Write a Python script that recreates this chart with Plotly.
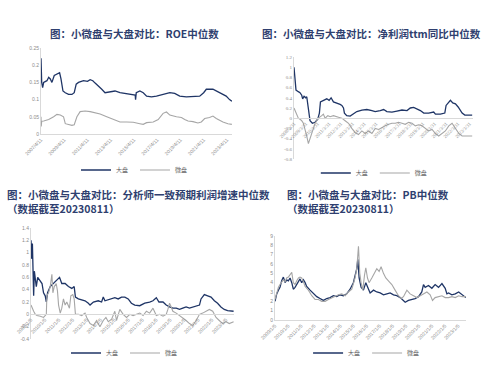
import plotly.graph_objects as go

# ---------------- Data (x as decimal years) ----------------
# Panel 1: ROE median
roe_big_x = [2007.28, 2007.34, 2007.42, 2007.51, 2007.79, 2007.94, 2008.08, 2008.22, 2008.42, 2008.65,
             2008.88, 2009.0, 2009.17, 2009.37, 2009.65, 2009.94, 2010.14, 2010.31, 2010.51, 2010.94,
             2011.28, 2011.51, 2011.74, 2011.94, 2012.22, 2012.51, 2012.79, 2013.22, 2013.65, 2014.08,
             2014.51, 2014.94, 2015.22, 2015.39, 2015.42, 2015.48, 2015.79, 2016.08, 2016.37, 2016.79,
             2017.22, 2017.79, 2018.37, 2018.79, 2019.22, 2019.79, 2020.37, 2020.94, 2021.28, 2021.51,
             2022.08, 2022.37, 2022.65, 2022.94, 2023.22, 2023.51, 2023.71]
roe_big_y = [0.22, 0.15, 0.135, 0.15, 0.155, 0.165, 0.16, 0.15, 0.17, 0.175,
             0.178, 0.16, 0.125, 0.12, 0.115, 0.115, 0.12, 0.145, 0.15, 0.155,
             0.153, 0.158, 0.155, 0.148, 0.14, 0.13, 0.12, 0.122, 0.125, 0.12,
             0.118, 0.115, 0.113, 0.113, 0.10, 0.12, 0.125, 0.12, 0.11, 0.108,
             0.11, 0.115, 0.12, 0.118, 0.11, 0.108, 0.108, 0.11, 0.12, 0.13,
             0.13, 0.125, 0.12, 0.115, 0.11, 0.10, 0.095]
roe_small_x = [2007.28, 2007.30, 2007.34, 2007.51, 2007.94, 2008.37, 2008.65, 2008.94, 2009.22, 2009.37,
               2009.65, 2009.94, 2010.14, 2010.37, 2010.65, 2011.08, 2011.51, 2011.94, 2012.37, 2012.94,
               2013.37, 2013.79, 2014.08, 2014.65, 2015.22, 2015.79, 2016.08, 2016.37, 2016.94, 2017.37,
               2017.79, 2018.08, 2018.37, 2018.94, 2019.37, 2019.65, 2019.94, 2020.37, 2020.79, 2021.08,
               2021.37, 2021.79, 2022.08, 2022.37, 2022.65, 2022.94, 2023.37, 2023.71]
roe_small_y = [0.05, 0.022, 0.037, 0.038, 0.042, 0.05, 0.057, 0.055, 0.05, 0.03,
               0.028, 0.025, 0.027, 0.05, 0.065, 0.067, 0.065, 0.062, 0.058, 0.05,
               0.045, 0.04, 0.035, 0.035, 0.034, 0.03, 0.028, 0.033, 0.035, 0.042,
               0.06, 0.064, 0.055, 0.05, 0.048, 0.042, 0.038, 0.036, 0.032, 0.035,
               0.045, 0.048, 0.052, 0.045, 0.04, 0.035, 0.03, 0.028]
roe_ticks = ["2007/4/11", "2009/4/11", "2011/4/11", "2013/4/11", "2015/4/11",
             "2017/4/11", "2019/4/11", "2021/4/11", "2023/4/11"]

# Panel 2: net profit ttm YoY median
np_big_x = [2008.25, 2008.34, 2008.42, 2008.62, 2008.76, 2008.91, 2008.99, 2009.11, 2009.25, 2009.34,
            2009.48, 2009.62, 2009.82, 2010.05, 2010.28, 2010.42, 2010.51, 2010.76, 2011.05, 2011.25,
            2011.42, 2011.62, 2011.91, 2012.19, 2012.34, 2012.48, 2012.56, 2012.76, 2013.05, 2013.34,
            2013.62, 2014.05, 2014.48, 2014.91, 2015.19, 2015.62, 2015.91, 2016.19, 2016.62, 2017.05,
            2017.48, 2017.91, 2018.19, 2018.48, 2018.76, 2019.05, 2019.34, 2019.76, 2020.19, 2020.34,
            2020.76, 2021.14, 2021.25, 2021.48, 2021.62, 2021.82, 2022.05, 2022.28, 2022.48, 2022.62,
            2022.85, 2023.19, 2023.48]
np_big_y = [1.0, 0.75, 0.55, 0.52, 0.5, 0.45, 0.38, 0.43, 0.4, 0.42,
            0.15, -0.05, -0.1, -0.08, -0.02, 0.1, 0.32, 0.35, 0.38, 0.35,
            0.4, 0.32, 0.3, 0.27, 0.25, 0.2, 0.1, 0.05, 0.04, 0.08,
            0.13, 0.16, 0.17, 0.15, 0.13, 0.15, 0.17, 0.13, 0.12, 0.14,
            0.16, 0.15, 0.2, 0.21, 0.18, 0.15, 0.1, 0.1, 0.12, 0.08,
            0.08, 0.1, 0.25, 0.3, 0.35, 0.3, 0.28, 0.22, 0.15, 0.1,
            0.06, 0.06, 0.06]
np_small_x = [2008.25, 2008.34, 2008.48, 2008.62, 2008.76, 2008.91, 2009.05, 2009.19, 2009.34, 2009.48,
              2009.62, 2009.76, 2009.91, 2010.05, 2010.19, 2010.34, 2010.62, 2010.76, 2010.91, 2011.14,
              2011.34, 2011.62, 2012.05, 2012.34, 2012.62, 2012.91, 2013.19, 2013.48, 2013.76, 2014.05,
              2014.34, 2014.62, 2014.91, 2015.19, 2015.48, 2015.76, 2016.05, 2016.34, 2016.62, 2016.91,
              2017.19, 2017.48, 2017.76, 2018.05, 2018.34, 2018.62, 2018.91, 2019.19, 2019.48, 2019.76,
              2020.05, 2020.34, 2020.62, 2020.91, 2021.19, 2021.48, 2021.76, 2022.05, 2022.34, 2022.62,
              2022.91, 2023.19, 2023.48]
np_small_y = [0.2, 0.15, 0.05, 0.0, -0.02, -0.05, -0.1, -0.2, -0.35, -0.5,
              -0.4, -0.3, -0.2, -0.1, -0.05, 0.0, 0.05, 0.08, 0.0, 0.05,
              0.03, 0.05, 0.02, 0.0, -0.05, -0.1, -0.2, -0.28, -0.32, -0.25,
              -0.3, -0.25, -0.3, -0.2, -0.22, -0.18, -0.15, -0.12, -0.1, -0.1,
              -0.08, -0.1, -0.12, -0.08, -0.1, -0.15, -0.13, -0.15, -0.2, -0.25,
              -0.22, -0.3, -0.35, -0.3, -0.25, -0.15, -0.1, -0.2, -0.3, -0.35,
              -0.35, -0.36, -0.35]
np_ticks = ["2008/3/31", "2009/3/31", "2010/3/31", "2011/3/31", "2012/3/31", "2013/3/31",
            "2014/3/31", "2015/3/31", "2016/3/31", "2017/3/31", "2018/3/31", "2019/3/31",
            "2020/3/31", "2021/3/31", "2022/3/31", "2023/3/31"]

# Panel 3: analyst consensus profit growth median
an_big_x = [2009.00, 2009.05, 2009.10, 2009.14, 2009.19, 2009.24, 2009.31, 2009.38, 2009.48, 2009.62,
            2009.79, 2009.90, 2010.02, 2010.10, 2010.19, 2010.38, 2010.62, 2010.86, 2011.05, 2011.21,
            2011.45, 2011.69, 2011.93, 2012.10, 2012.19, 2012.40, 2012.64, 2012.88, 2013.12, 2013.24,
            2013.48, 2013.83, 2014.07, 2014.19, 2014.31, 2014.67, 2015.02, 2015.26, 2015.50, 2015.74,
            2015.98, 2016.21, 2016.45, 2016.81, 2017.17, 2017.52, 2017.76, 2018.00, 2018.19, 2018.48,
            2018.71, 2018.95, 2019.19, 2019.43, 2019.67, 2019.90, 2020.14, 2020.38, 2020.62, 2020.86,
            2021.10, 2021.21, 2021.45, 2021.69, 2021.93, 2022.17, 2022.40, 2022.64, 2022.88, 2023.12,
            2023.36, 2023.55]
an_big_y = [1.2, 0.9, 1.15, 0.6, 0.3, 0.7, 0.6, 0.45, 0.6, 0.55,
            0.5, 0.35, 0.3, 0.2, 0.35, 0.45, 0.5, 0.55, 0.6, 0.5,
            0.5, 0.45, 0.42, 0.45, 0.28, 0.25, 0.24, 0.22, 0.18, 0.15,
            0.2, 0.22, 0.2, 0.28, 0.22, 0.25, 0.27, 0.25, 0.28, 0.28,
            0.25, 0.18, 0.15, 0.14, 0.18, 0.2, 0.22, 0.27, 0.2, 0.2,
            0.15, 0.12, 0.1, 0.1, 0.08, 0.1, 0.12, 0.1, 0.12, 0.13,
            0.15, 0.25, 0.32, 0.3, 0.28, 0.22, 0.18, 0.12, 0.08, 0.06,
            0.06, 0.05]
an_small_x = [2009.00, 2009.10, 2009.19, 2009.31, 2009.43, 2009.67, 2009.90, 2010.10, 2010.14, 2010.26,
              2010.38, 2010.50, 2010.57, 2010.67, 2010.81, 2010.90, 2010.98, 2011.10, 2011.21, 2011.33,
              2011.45, 2011.57, 2011.76, 2011.86, 2012.00, 2012.10, 2012.19, 2012.40, 2012.64, 2012.88,
              2013.00, 2013.24, 2013.48, 2013.71, 2013.95, 2014.19, 2014.38, 2014.55, 2014.79, 2015.02,
              2015.14, 2015.38, 2015.62, 2015.86, 2016.10, 2016.33, 2016.57, 2016.81, 2017.05, 2017.29,
              2017.52, 2017.76, 2018.00, 2018.24, 2018.48, 2018.71, 2018.83, 2018.95, 2019.07, 2019.19,
              2019.43, 2019.67, 2019.90, 2020.14, 2020.38, 2020.62, 2020.86, 2021.10, 2021.33, 2021.57,
              2021.81, 2022.05, 2022.29, 2022.52, 2022.76, 2023.00, 2023.24, 2023.55]
an_small_y = [0.15, 0.08, 0.05, 0.0, -0.02, -0.03, -0.05, 0.0, 0.3, 0.35,
              0.45, 0.65, 0.35, 0.45, 0.5, 0.38, 0.15, 0.02, 0.1, 0.25,
              0.15, 0.2, 0.1, 0.3, 0.32, 0.25, 0.0, 0.0, -0.02, 0.02,
              -0.05, -0.15, -0.18, -0.1, -0.2, -0.1, -0.05, -0.12, -0.08, 0.05,
              -0.1, 0.08, 0.0, -0.05, 0.0, -0.02, 0.0, 0.02, -0.02, 0.05,
              0.02, 0.1, -0.02, 0.0, -0.03, 0.0, 0.08, 0.18, 0.12, 0.05,
              0.02, -0.02, -0.05, -0.1, -0.15, -0.18, -0.1, 0.0, 0.02, 0.05,
              0.08, 0.05, -0.05, -0.1, -0.15, -0.12, -0.15, -0.12]
an_ticks = ["2009/1/5", "2010/1/5", "2011/1/5", "2012/1/5", "2013/1/5", "2014/1/5", "2015/1/5",
            "2016/1/5", "2017/1/5", "2018/1/5", "2019/1/5", "2020/1/5", "2021/1/5", "2022/1/5",
            "2023/1/5"]

# Panel 4: PB median
pb_big_x = [2009.00, 2009.13, 2009.26, 2009.38, 2009.51, 2009.64, 2009.77, 2009.89, 2010.02, 2010.15,
            2010.28, 2010.40, 2010.53, 2010.66, 2010.79, 2010.91, 2011.04, 2011.17, 2011.30, 2011.42,
            2011.68, 2011.93, 2012.19, 2012.44, 2012.70, 2012.95, 2013.21, 2013.46, 2013.72, 2013.97,
            2014.23, 2014.48, 2014.74, 2014.99, 2015.25, 2015.33, 2015.43, 2015.58, 2015.76, 2015.94,
            2016.09, 2016.27, 2016.53, 2016.78, 2017.04, 2017.29, 2017.55, 2017.80, 2018.06, 2018.31,
            2018.57, 2018.82, 2018.95, 2019.20, 2019.46, 2019.71, 2019.97, 2020.22, 2020.35, 2020.48,
            2020.73, 2020.99, 2021.24, 2021.50, 2021.76, 2022.01, 2022.14, 2022.27, 2022.52, 2022.78,
            2023.04, 2023.29, 2023.59]
pb_big_y = [2.0, 2.8, 3.2, 3.5, 4.2, 4.6, 4.0, 4.3, 4.2, 4.5,
            4.0, 3.3, 3.5, 3.8, 4.2, 4.4, 4.0, 4.3, 4.0, 3.6,
            3.2, 2.8, 2.5, 2.3, 2.1, 2.3, 2.4, 2.6, 2.5, 2.7,
            2.6, 2.8, 3.3, 4.0, 5.5, 6.5, 4.5, 3.5, 3.2, 4.0,
            3.5, 2.9, 3.2, 3.0, 2.9, 2.7, 2.8, 2.9, 2.7, 2.6,
            2.4, 2.0, 1.9, 2.1, 2.2, 2.3, 2.5, 3.0, 3.8, 3.5,
            3.7, 3.4, 3.8, 3.5, 3.9, 3.4, 2.8, 2.9, 2.7, 2.8,
            3.0, 2.7, 2.4]
pb_small_x = [2009.00, 2009.13, 2009.26, 2009.38, 2009.51, 2009.64, 2009.77, 2009.89, 2010.02, 2010.15,
              2010.28, 2010.40, 2010.53, 2010.66, 2010.79, 2010.91, 2011.04, 2011.17, 2011.30, 2011.55,
              2011.81, 2012.06, 2012.32, 2012.57, 2012.83, 2013.08, 2013.34, 2013.59, 2013.85, 2014.10,
              2014.36, 2014.61, 2014.87, 2015.12, 2015.25, 2015.38, 2015.48, 2015.58, 2015.71, 2015.84,
              2015.94, 2016.07, 2016.19, 2016.40, 2016.60, 2016.78, 2016.96, 2017.11, 2017.29, 2017.47,
              2017.67, 2017.93, 2018.18, 2018.44, 2018.64, 2018.82, 2019.08, 2019.33, 2019.59, 2019.84,
              2020.10, 2020.35, 2020.61, 2020.86, 2021.04, 2021.24, 2021.50, 2021.76, 2022.01, 2022.27,
              2022.52, 2022.78, 2023.04, 2023.29, 2023.59]
pb_small_y = [2.2, 3.0, 3.5, 3.8, 4.0, 4.3, 4.1, 4.5, 4.6, 4.8,
              5.1, 4.0, 3.8, 4.2, 4.5, 4.6, 4.5, 4.1, 3.6, 3.2,
              2.6, 2.2, 2.2, 2.0, 2.0, 2.2, 2.4, 2.5, 2.7, 2.8,
              2.6, 3.0, 3.3, 4.5, 5.5, 7.9, 5.0, 4.0, 3.2, 4.8,
              5.6, 4.5, 4.0, 4.5, 5.0, 5.5, 5.2, 5.7, 5.0, 4.5,
              4.2, 3.8, 3.2, 2.6, 2.3, 2.5, 3.2, 2.8, 2.6, 2.4,
              2.6, 2.8, 3.0, 2.7, 2.1, 2.4, 2.5, 2.6, 2.4, 2.4,
              2.5, 2.4, 2.6, 2.5, 2.5]
pb_ticks = an_ticks

# ---------------- Styling ----------------
BIG = "#1F3566"
SMALL = "#A6A6A6"
TITLE_C = "#2F3F6F"
TICK_C = "#8C8C8C"
LINE_C = "#D9D9D9"
CJK = "Noto Sans CJK SC"


def year_of(label, offset):
    return int(label.split("/")[0]) + offset


fig = go.Figure()

panels = [
    dict(n="", bx=roe_big_x, by=roe_big_y, sx=roe_small_x, sy=roe_small_y, leg="legend"),
    dict(n="2", bx=np_big_x, by=np_big_y, sx=np_small_x, sy=np_small_y, leg="legend2"),
    dict(n="3", bx=an_big_x, by=an_big_y, sx=an_small_x, sy=an_small_y, leg="legend3"),
    dict(n="4", bx=pb_big_x, by=pb_big_y, sx=pb_small_x, sy=pb_small_y, leg="legend4"),
]
for p in panels:
    fig.add_trace(go.Scatter(x=p["bx"], y=p["by"], mode="lines", name="大盘",
                             line=dict(color=BIG, width=1.3), xaxis="x" + p["n"], yaxis="y" + p["n"],
                             legend=p["leg"]))
    fig.add_trace(go.Scatter(x=p["sx"], y=p["sy"], mode="lines", name="微盘",
                             line=dict(color=SMALL, width=1.1), xaxis="x" + p["n"], yaxis="y" + p["n"],
                             legend=p["leg"]))

tickfont = dict(size=5, color=TICK_C, family="Liberation Sans")
serif_tf = dict(size=5, color=TICK_C, family="Liberation Serif")


def xax(domain, rng, labels, offset, anchor, font, position=None):
    d = dict(domain=domain, range=rng, tickmode="array",
             tickvals=[year_of(t, offset) for t in labels], ticktext=labels,
             tickangle=-45, tickfont=font, showgrid=False, zeroline=False,
             showline=True, linecolor=LINE_C, linewidth=1, ticks="", anchor=anchor,
             automargin=False)
    if position is not None:
        d["position"] = position
    return d


def yax(domain, rng, vals, anchor, font):
    return dict(domain=domain, range=rng, tickmode="array", tickvals=vals,
                ticktext=[("%g" % v) for v in vals], tickfont=font, showgrid=False,
                zeroline=False, showline=True, linecolor=LINE_C, linewidth=1, ticks="",
                anchor=anchor, automargin=False)


roe_yvals = [0, 0.05, 0.1, 0.15, 0.2, 0.25]
np_yvals = [-0.8, -0.6, -0.4, -0.2, 0, 0.2, 0.4, 0.6, 0.8, 1, 1.2]
an_yvals = [-0.4, -0.2, 0, 0.2, 0.4, 0.6, 0.8, 1, 1.2, 1.4]
pb_yvals = [0, 1, 2, 3, 4, 5, 6, 7, 8, 9]

legend_common = dict(orientation="h", xanchor="center", yanchor="middle",
                     font=dict(size=6, color="#595959", family=CJK),
                     bgcolor="rgba(0,0,0,0)", entrywidth=14, entrywidthmode="pixels",
                     tracegroupgap=0)

fig.update_layout(
    template="none",
    width=483, height=367, margin=dict(l=0, r=0, t=0, b=0, autoexpand=False),
    paper_bgcolor="white", plot_bgcolor="white",
    xaxis=xax([0.0849, 0.4803], [2007.28, 2023.72], roe_ticks, 0.28, "y", tickfont),
    yaxis=yax([0.6349, 0.8692], [0, 0.25], roe_yvals, "x", tickfont),
    xaxis2=xax([0.6087, 0.9793], [2008.25, 2023.55], np_ticks, 0.25, "free", serif_tf, 0.6785),
    yaxis2=yax([0.5668, 0.8447], [-0.8, 1.2], np_yvals, "x2", serif_tf),
    xaxis3=xax([0.0642, 0.4845], [2009.0, 2023.58], an_ticks, 0.0, "free", tickfont, 0.1444),
    yaxis3=yax([0.0763, 0.3787], [-0.4, 1.4], an_yvals, "x3", tickfont),
    xaxis4=xax([0.5694, 0.9648], [2009.0, 2023.6], pb_ticks, 0.0, "y4", tickfont),
    yaxis4=yax([0.1281, 0.3569], [0, 9], pb_yvals, "x4", tickfont),
    legend=dict(x=0.2795, y=0.5368, **legend_common),
    legend2=dict(x=0.776, y=0.5286, **legend_common),
    legend3=dict(x=0.2588, y=0.0381, **legend_common),
    legend4=dict(x=0.76, y=0.0381, **legend_common),
    showlegend=True,
)

title_font = dict(family=CJK, size=10.5, color=TITLE_C)
fig.add_annotation(text="<b>图：小微盘与大盘对比：ROE中位数</b>", x=0.2795, y=0.910,
                   xref="paper", yref="paper", showarrow=False, xanchor="center", yanchor="middle",
                   font=title_font)
fig.add_annotation(text="<b>图：小微盘与大盘对比：净利润ttm同比中位数</b>", x=0.770, y=0.910,
                   xref="paper", yref="paper", showarrow=False, xanchor="center", yanchor="middle",
                   font=title_font)
fig.add_annotation(text="<b>图：小微盘与大盘对比：分析师一致预期利润增速中位数</b><br><b>（数据截至20230811）</b>",
                   x=0.0104, y=0.452, xref="paper", yref="paper", showarrow=False,
                   xanchor="left", yanchor="middle", align="left", font=title_font)
fig.add_annotation(text="<b>图：小微盘与大盘对比：PB中位数</b><br><b>（数据截至20230811）</b>",
                   x=0.590, y=0.452, xref="paper", yref="paper", showarrow=False,
                   xanchor="left", yanchor="middle", align="left", font=title_font)

fig.write_html("out.html", config={"displayModeBar": False},
               post_script="document.body.style.margin='0';document.body.style.overflow='hidden';")
